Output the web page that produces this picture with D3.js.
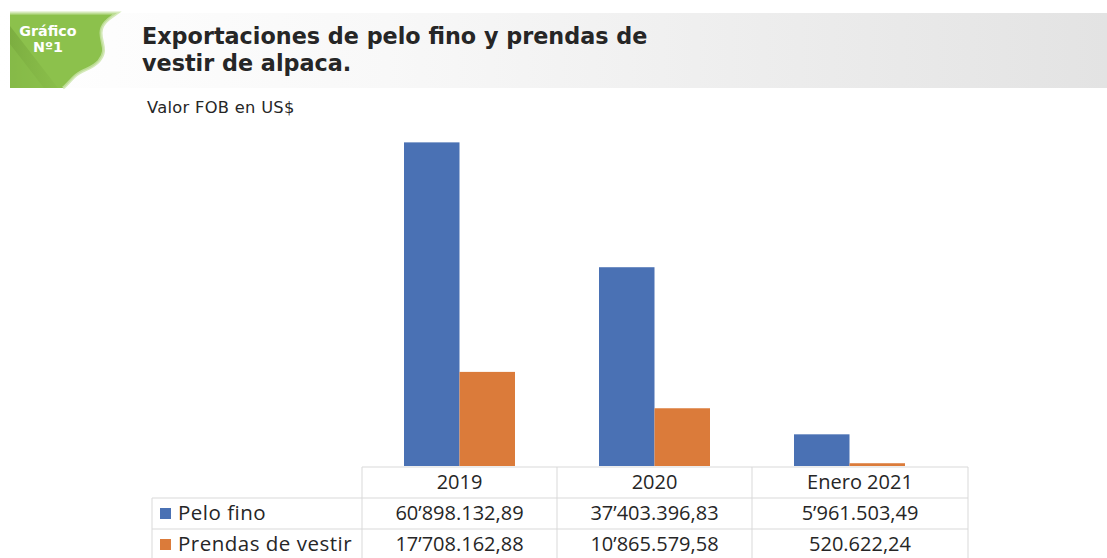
<!DOCTYPE html>
<html>
<head>
<meta charset="utf-8">
<script src="https://cdn.jsdelivr.net/npm/d3@7"></script>
<style>
  html, body { margin: 0; padding: 0; background: #ffffff; }
  svg { display: block; font-family: "Open Sans", "Noto Sans", sans-serif; }
</style>
</head>
<body>
<svg id="chart" width="1107" height="558"></svg>
<script>
// Export values (FOB, US$)
const categories = ["2019", "2020", "Enero 2021"];
const seriesNames = ["Pelo fino", "Prendas de vestir"];
const peloFino = [60898132.89, 37403396.83, 5961503.49];
const prendasDeVestir = [17708162.88, 10865579.58, 520622.24];
const seriesColors = ["#4a71b4", "#db7b3a"];

const titleLines = ["Exportaciones de pelo fino y prendas de", "vestir de alpaca."];
const subtitle = "Valor FOB en US$";
const badgeLines = ["Gráfico", "Nº1"];

// 60’898.132,89 style: ’ for millions, . for thousands, , for decimals
function fmt(v) {
  const [intPart, dec] = v.toFixed(2).split(".");
  const groups = [];
  for (let i = intPart.length; i > 0; i -= 3) groups.unshift(intPart.slice(Math.max(0, i - 3), i));
  let s = "";
  groups.forEach((g, i) => {
    if (i > 0) {
      const remaining = groups.length - i;
      s += remaining === 2 ? "’" : ".";
    }
    s += g;
  });
  return s + "," + dec;
}

const svg = d3.select("#chart");
const defs = svg.append("defs");

// Header band
const bandGrad = defs.append("linearGradient").attr("id", "bandGrad")
  .attr("x1", "0").attr("x2", "1").attr("y1", "0").attr("y2", "0");
bandGrad.append("stop").attr("offset", "0").attr("stop-color", "#ffffff");
bandGrad.append("stop").attr("offset", "0.35").attr("stop-color", "#f8f8f8");
bandGrad.append("stop").attr("offset", "1").attr("stop-color", "#e3e3e3");
svg.append("rect").attr("x", 0).attr("y", 13).attr("width", 1107).attr("height", 75)
  .attr("fill", "url(#bandGrad)");

// Badge
const badge = svg.append("g");
const shadeGrad = defs.append("linearGradient").attr("id", "shadeGrad")
  .attr("x1", "0").attr("y1", "0").attr("x2", "1").attr("y2", "0");
shadeGrad.append("stop").attr("offset", "0").attr("stop-color", "#6f9e37").attr("stop-opacity", 0.55);
shadeGrad.append("stop").attr("offset", "1").attr("stop-color", "#7aab3e").attr("stop-opacity", 0.15);
const badgeShape = "M10,13 L117,13 C110,18 101,23 101,33 C101,44 108,50 99,61 C91,70 82,69 74,77 C69,82 66,86 63,88 L10,88 Z";
badge.append("path").attr("d", badgeShape).attr("fill", "#8cc14c");
badge.append("path")
  .attr("d", "M10,13 L117,13 C110,18 101,23 101,33 C101,44 108,50 99,61 C91,70 82,69 74,77 C69,82 66,86 63,88")
  .attr("fill", "none").attr("stroke", "#c9e3a8").attr("stroke-width", 3).attr("opacity", 0.8);
badge.append("path").attr("d", "M10,26 L58,88 L10,88 Z").attr("fill", "url(#shadeGrad)");
badge.append("path").attr("d", "M10,44 L44,88 L10,88 Z").attr("fill", "#8cc14c").attr("opacity", 0.6);
badge.selectAll("text.badge").data(badgeLines).join("text")
  .attr("class", "badge")
  .attr("x", 48).attr("y", (d, i) => 36 + i * 16)
  .attr("text-anchor", "middle")
  .attr("font-family", "'DejaVu Sans', sans-serif")
  .attr("fill", "#ffffff").attr("font-weight", 700).attr("font-size", 14.3)
  .text(d => d);

// Title and subtitle
svg.selectAll("text.title").data(titleLines).join("text")
  .attr("class", "title")
  .attr("x", 142).attr("y", (d, i) => 44 + i * 27)
  .attr("font-family", "'DejaVu Sans', sans-serif")
  .attr("fill", "#262626").attr("font-weight", 700).attr("font-size", 22.3)
  .text(d => d);
svg.append("text").attr("x", 147).attr("y", 113)
  .attr("font-family", "'DejaVu Sans', sans-serif")
  .attr("letter-spacing", 0.3)
  .attr("fill", "#262626").attr("font-size", 16.3).text(subtitle);

// Scales
const x = d3.scaleBand().domain(categories).range([362, 947]).padding(0);
const xSub = d3.scaleBand().domain(seriesNames).range([42, 153]).padding(0);
const y = d3.scaleLinear().domain([0, 70000000]).range([466, 94]);

const rows = categories.map((c, i) => ({ category: c, values: [peloFino[i], prendasDeVestir[i]] }));

const groups = svg.append("g").selectAll("g").data(rows).join("g")
  .attr("transform", d => `translate(${x(d.category)},0)`);
groups.selectAll("rect").data(d => d.values.map((v, j) => ({ v, name: seriesNames[j], j })))
  .join("rect")
  .attr("x", d => xSub(d.name))
  .attr("width", xSub.bandwidth())
  .attr("y", d => y(d.v))
  .attr("height", d => y(0) - y(d.v))
  .attr("fill", d => seriesColors[d.j]);

// Data table under the chart
const table = svg.append("g");
const rowTop = [467, 498, 529];
const rowH = 31;
const tableLeft = 152;
const tableRight = 968;
const colEdges = categories.map(c => x(c)).concat([tableRight]);
const lineColor = "#d9d9d9";
const textColor = "#262626";

// horizontal lines
table.append("line").attr("x1", colEdges[0]).attr("x2", tableRight)
  .attr("y1", rowTop[0]).attr("y2", rowTop[0]).attr("stroke", lineColor);
[rowTop[1], rowTop[2], rowTop[2] + rowH].forEach(yy => {
  table.append("line").attr("x1", tableLeft).attr("x2", tableRight)
    .attr("y1", yy).attr("y2", yy).attr("stroke", lineColor);
});
// vertical lines
colEdges.forEach(xx => {
  table.append("line").attr("x1", xx).attr("x2", xx)
    .attr("y1", rowTop[0]).attr("y2", rowTop[2] + rowH).attr("stroke", lineColor);
});
table.append("line").attr("x1", tableLeft).attr("x2", tableLeft)
  .attr("y1", rowTop[1]).attr("y2", rowTop[2] + rowH).attr("stroke", lineColor);

// header labels
table.selectAll("text.head").data(categories).join("text")
  .attr("class", "head")
  .attr("x", (d, i) => (colEdges[i] + colEdges[i + 1]) / 2)
  .attr("y", rowTop[0] + 22)
  .attr("text-anchor", "middle").attr("font-size", 20).attr("fill", textColor)
  .text(d => d);

// series rows
const seriesData = [peloFino, prendasDeVestir];
seriesNames.forEach((name, s) => {
  const top = rowTop[s + 1];
  table.append("rect").attr("x", 160).attr("y", top + 10).attr("width", 11).attr("height", 11)
    .attr("fill", seriesColors[s]);
  table.append("text").attr("x", 178).attr("y", top + 22)
    .attr("font-size", 20.5).attr("letter-spacing", 0.5).attr("fill", textColor).text(name);
  table.selectAll(null).data(seriesData[s]).join("text")
    .attr("x", (d, i) => (colEdges[i] + colEdges[i + 1]) / 2)
    .attr("y", top + 22)
    .attr("text-anchor", "middle").attr("font-size", 20).attr("fill", textColor)
    .text(d => fmt(d));
});
</script>
</body>
</html>
